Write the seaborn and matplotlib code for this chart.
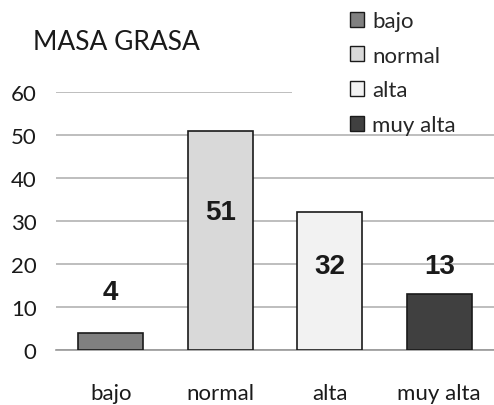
import matplotlib
matplotlib.use("Agg")
import matplotlib.pyplot as plt
from matplotlib.patches import Patch, Rectangle
import seaborn as sns
import pandas as pd

# data
categories = ["bajo", "normal", "alta", "muy alta"]
values = [4, 51, 32, 13]
bar_colors = ["#808080", "#d9d9d9", "#f2f2f2", "#404040"]
label_y = [13.5, 32, 19.5, 19.5]   # where the value labels sit (data units)
title = "MASA GRASA"

df = pd.DataFrame({"cat": categories, "val": values})

sns.set_theme(style="white")
plt.rcParams["font.family"] = ["Lato", "DejaVu Sans"]

W, H = 494, 406
fig = plt.figure(figsize=(W / 100, H / 100), dpi=100)
x0, x1, y0, y1 = 56, 494, 351, 93
ax = fig.add_axes([x0 / W, (H - y0) / H, (x1 - x0) / W, (y0 - y1) / H])

sns.barplot(data=df, x="cat", y="val", hue="cat", palette=bar_colors,
            width=0.59, edgecolor="#1a1a1a", linewidth=1.2, legend=False,
            saturation=1, ax=ax, zorder=3)

ax.set_ylim(0, 60)
ax.set_xlim(-0.5, -0.5 + (x1 - x0) / 112)
ax.set_yticks(range(0, 61, 10))
ax.yaxis.grid(True, color="#b3b3b3", linewidth=1.2)
ax.set_axisbelow(True)
for s in ["left", "right", "top"]:
    ax.spines[s].set_visible(False)
ax.spines["bottom"].set_color("#999999")
ax.spines["bottom"].set_linewidth(1.2)
ax.set_xlabel("")
ax.set_ylabel("")
ax.tick_params(axis="y", length=0, pad=14, labelsize=16, labelcolor="#1a1a1a")
ax.tick_params(axis="x", which="major", length=0, pad=24, labelsize=16, labelcolor="#1a1a1a")
ax.set_xticks([-0.5, 0.5, 1.5, 2.5, 3.5], minor=True)
ax.tick_params(axis="x", which="minor", length=6, width=1, color="#999999", direction="out")

for i, (v, ly) in enumerate(zip(values, label_y)):
    ax.text(i, ly, str(v), ha="center", va="center", fontsize=20,
            fontweight="bold", family=["Liberation Sans", "DejaVu Sans"],
            color="#1a1a1a", zorder=5)

fig.text(33 / W, 1 - 43 / H, title, fontsize=19, color="#1a1a1a",
         ha="left", va="center")

# white box behind the legend, covering the top gridline like in the original
fig.patches.append(Rectangle((292 / W, 1 - 132 / H), (W - 292) / W, 132 / H,
                             transform=fig.transFigure, facecolor="white",
                             edgecolor="none", zorder=1))

handles = [Patch(facecolor=c, edgecolor="#1a1a1a", linewidth=1) for c in bar_colors]
fig.legend(handles, categories, loc="upper left",
           bbox_to_anchor=(350 / W, 1 - 12 / H), frameon=False, fontsize=16,
           handlelength=0.65, handleheight=0.65, handletextpad=0.35,
           labelspacing=0.66, borderpad=0, borderaxespad=0)

fig.savefig("out.png", dpi=100)
